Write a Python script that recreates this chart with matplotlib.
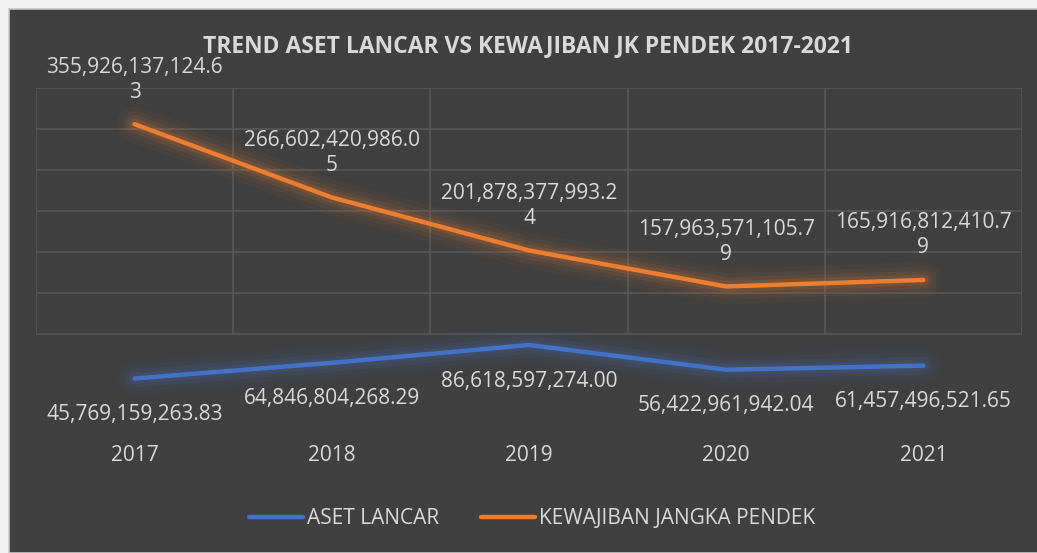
import matplotlib
matplotlib.use('Agg')
import matplotlib.pyplot as plt
import matplotlib.patches as mpatches
import numpy as np

# ── 데이터 ─────────────────────────────────────────────
years = ["2017", "2018", "2019", "2020", "2021"]
aset_lancar = [45769159263.83, 64846804268.29, 86618597274.00,
               56422961942.04, 61457496521.65]
kewajiban_pendek = [355926137124.63, 266602420986.05, 201878377993.24,
                    157963571105.79, 165916812410.79]

BG = '#404040'
GRID = '#585858'
TXT = '#d9d9d9'
BLUE = '#4472C4'
ORANGE = '#ED7D31'

plt.rcParams['font.family'] = ['Open Sans', 'DejaVu Sans']

fig = plt.figure(figsize=(10.37, 5.53), dpi=100)
fig.patch.set_facecolor('#f2f2f2')
# 차트 영역 배경 (좌/상단 흰 여백)
fig.patches.append(mpatches.Rectangle((9 / 1037, 0), 1, 544 / 553,
                                      transform=fig.transFigure,
                                      facecolor=BG, edgecolor='#c8c8c8',
                                      linewidth=1.2, zorder=-5))

ax = fig.add_axes([36 / 1037, 137 / 553, 986 / 1037, 328 / 553])
ax.set_facecolor('none')
x = np.arange(len(years))
ax.set_xlim(-0.5, len(years) - 0.5)
ax.set_ylim(0, 400)
for s in ax.spines.values():
    s.set_visible(False)
ax.set_yticks([])
ax.set_xticks(x)
ax.set_xticklabels(years, color=TXT, fontsize=15)
ax.tick_params(axis='x', length=0, pad=21)

# 격자 (하단은 보이지 않음)
ax.hlines(np.arange(100, 401, 50), -0.5, len(years) - 0.5,
          color=GRID, linewidth=1.2, zorder=1)
ax.vlines(np.arange(len(years) + 1) - 0.5, 100, 400,
          color=GRID, linewidth=1.2, zorder=1)

blue_v = np.array(aset_lancar) / 1e9
orange_v = np.array(kewajiban_pendek) / 1e9

# 글로우 효과
for lw, a in [(26, 0.04), (19, 0.06), (13, 0.09), (8, 0.13)]:
    ax.plot(x, blue_v, color=BLUE, linewidth=lw, alpha=a,
            solid_capstyle='round', zorder=2)
    ax.plot(x, orange_v, color=ORANGE, linewidth=lw, alpha=a,
            solid_capstyle='round', zorder=2)
ax.plot(x, blue_v, color=BLUE, linewidth=3.2, solid_capstyle='round',
        zorder=3, label='ASET LANCAR')
ax.plot(x, orange_v, color=ORANGE, linewidth=3.2, solid_capstyle='round',
        zorder=3, label='KEWAJIBAN JANGKA PENDEK')

# 데이터 레이블
for xi, v, raw in zip(x, orange_v, kewajiban_pendek):
    s = f"{raw:,.2f}"
    ax.annotate(s[:-1] + "\n" + s[-1], (xi, v), xytext=(0, 15.5),
                textcoords='offset points', ha='center', va='bottom',
                color=TXT, fontsize=15, linespacing=1.25)
for xi, v, raw in zip(x, blue_v, aset_lancar):
    ax.annotate(f"{raw:,.2f}", (xi, v), xytext=(0, -26),
                textcoords='offset points', ha='center', va='center',
                color=TXT, fontsize=15)

fig.text(528 / 1037, 1 - 46 / 553,
         "TREND ASET LANCAR VS KEWAJIBAN JK PENDEK 2017-2021",
         ha='center', va='center', color=TXT, fontsize=16.5,
         fontweight='bold')

fig.legend(loc='center', bbox_to_anchor=(532 / 1037, 1 - 519 / 553),
           ncol=2, frameon=False, fontsize=15, labelcolor=TXT,
           handlelength=2.6, handletextpad=0.2, columnspacing=2.0)

fig.savefig('out.png', dpi=100, facecolor=fig.get_facecolor())
